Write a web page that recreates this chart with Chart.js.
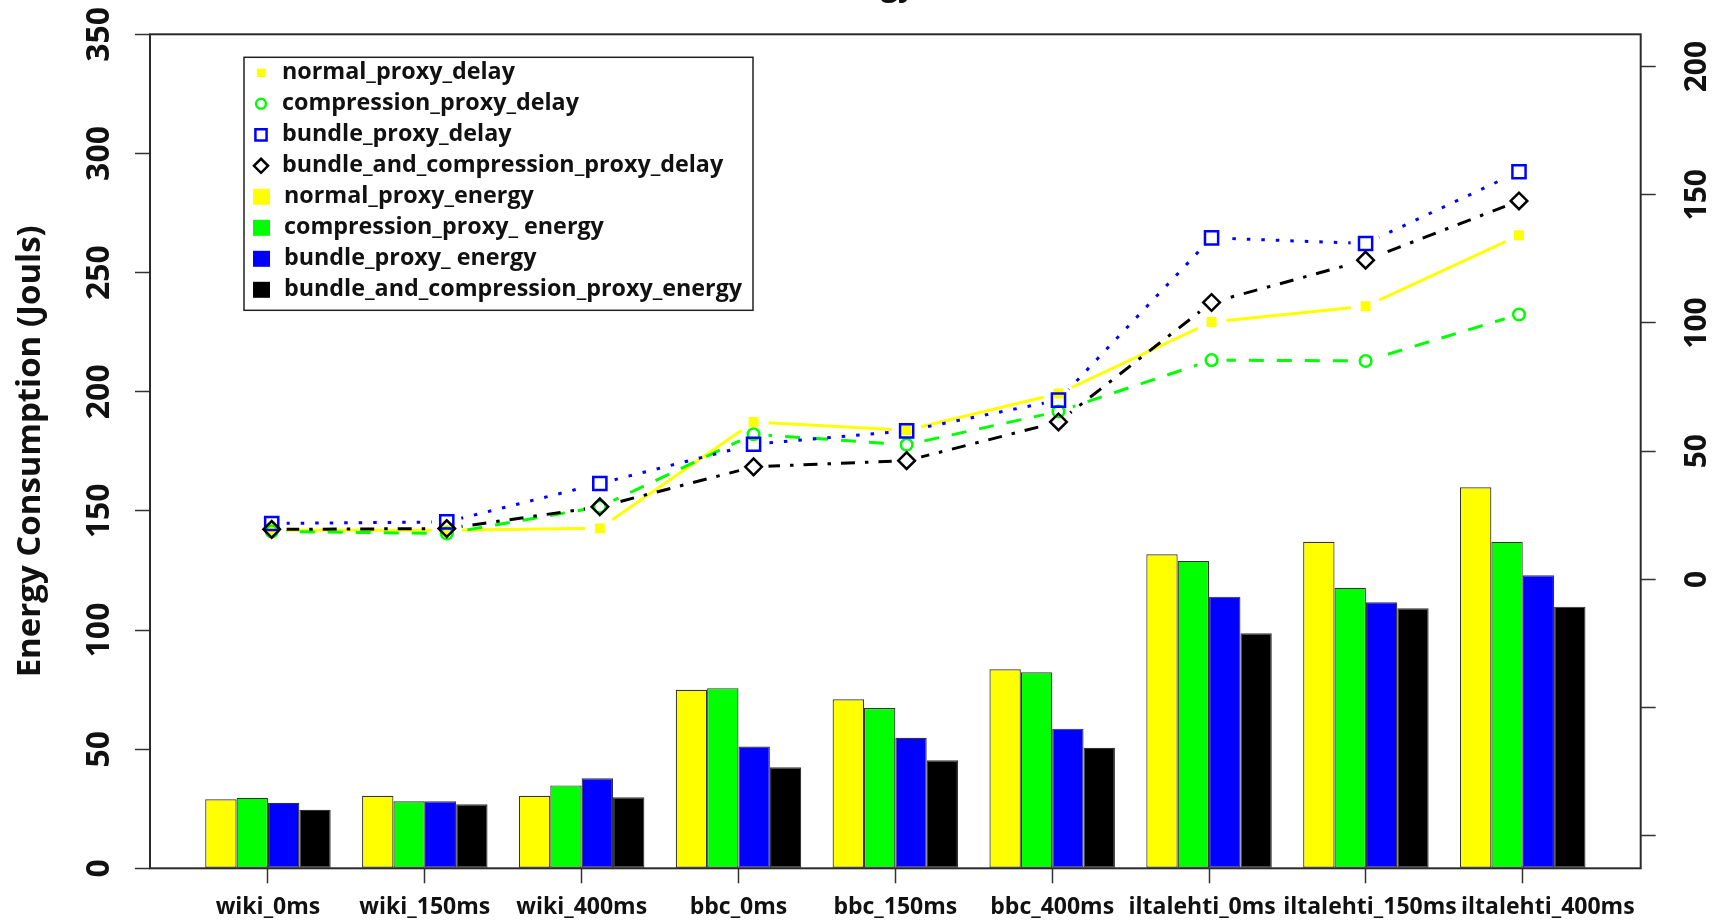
<!DOCTYPE html>
<html>
<head>
<meta charset="utf-8">
<script src="https://cdn.jsdelivr.net/npm/chart.js"></script>
<style>
  html, body { margin: 0; padding: 0; background: #fff; }
</style>
</head>
<body>
<canvas id="chartCanvas" width="1729" height="923"></canvas>
<script>
// categories on the x axis
const categories = ["wiki_0ms", "wiki_150ms", "wiki_400ms", "bbc_0ms", "bbc_150ms",
  "bbc_400ms", "iltalehti_0ms", "iltalehti_150ms", "iltalehti_400ms"];

// energy (left axis, Jouls)
const normalEnergy = [29.0, 30.4, 30.4, 74.9, 70.9, 83.5, 131.8, 137.0, 159.9];
const compressionEnergy = [29.6, 28.1, 34.8, 75.6, 67.3, 82.3, 129.0, 117.7, 137.0];
const bundleEnergy = [27.5, 28.1, 37.8, 51.1, 54.8, 58.6, 114.0, 111.7, 123.0];
const bundleCompressionEnergy = [24.6, 26.9, 29.8, 42.4, 45.3, 50.6, 98.6, 109.1, 109.8];

// delay (right axis)
const normalDelay = [19.2, 19.2, 19.9, 61.4, 58.2, 72.5, 100.4, 106.5, 134.2];
const compressionDelay = [18.7, 17.9, 28.3, 56.6, 52.5, 65.5, 85.5, 85.2, 103.3];
const bundleDelay = [21.8, 22.4, 37.4, 52.7, 57.9, 69.9, 133.2, 131.0, 159.0];
const bundleCompressionDelay = [19.5, 19.8, 28.3, 43.9, 46.3, 61.4, 108.0, 124.5, 147.6];

// x values of the delay points, in bar widths (the same units as the bar axis)
const delayX = [3.12, 8.70, 13.58, 18.48, 23.36, 28.20, 33.08, 37.99, 42.88];

// tick values
const energyTicks = [0, 50, 100, 150, 200, 250, 300, 350];
const delayTicks = [-100, -50, 0, 50, 100, 150, 200];

const FONT = "'Open Sans', 'DejaVu Sans', sans-serif";
const INK = "#111";

// barplot layout: 4 bars per group, one empty bar between groups
const groupX = categories.map((c, i) => 3 + 5 * i);
// the last labels sit a little off their ticks in the original, so they don't collide
const labelNudge = { 6: -0.22, 7: 0.13, 8: 0.8 };

const energySeries = [
  { label: "normal_proxy_energy", data: normalEnergy, color: "#ffff00" },
  { label: "compression_proxy_ energy", data: compressionEnergy, color: "#00ff00" },
  { label: "bundle_proxy_ energy", data: bundleEnergy, color: "#0000ff" },
  { label: "bundle_and_compression_proxy_energy", data: bundleCompressionEnergy, color: "#000000" },
];

const delaySeries = [
  { label: "normal_proxy_delay", data: normalDelay, color: "#ffff00", style: "rect", radius: 7, border: 0, dash: [] },
  { label: "compression_proxy_delay", data: compressionDelay, color: "#00ff00", style: "circle", radius: 5.8, border: 2.5, dash: [15, 13] },
  { label: "bundle_proxy_delay", data: bundleDelay, color: "#0000ff", style: "rect", radius: 9.3, border: 2.5, dash: [3.5, 11] },
  { label: "bundle_and_compression_proxy_delay", data: bundleCompressionDelay, color: "#000000", style: "rectRot", radius: 8.3, border: 2.5, dash: [3.5, 10, 14, 10] },
];

const datasets = [];
energySeries.forEach((s) => {
  datasets.push({
    type: "bar",
    label: s.label,
    data: s.data.map((v, i) => ({ x: groupX[i], y: v })),
    backgroundColor: s.color,
    borderColor: "#333",
    borderWidth: 1.2,
    borderSkipped: false,
    categoryPercentage: 0.8,
    barPercentage: 1,
    yAxisID: "y",
    order: 5,
  });
});
delaySeries.forEach((s, k) => {
  const pts = s.data.map((v, i) => ({ x: delayX[i], y: v }));
  // the line, with a gap round every point (like R type = "b")
  datasets.push({
    type: "line",
    label: s.label + "_line",
    data: pts,
    borderColor: s.color,
    borderWidth: 3,
    borderDash: s.dash,
    pointRadius: 0,
    fill: false,
    tension: 0,
    yAxisID: "y1",
    gapAround: 15,
    order: 3 - k * 0.1,
  });
  // the markers
  datasets.push({
    type: "line",
    label: s.label,
    data: pts,
    showLine: false,
    pointStyle: s.style,
    pointRadius: s.radius,
    pointBorderWidth: s.border,
    pointBorderColor: s.color,
    pointBackgroundColor: s.border === 0 ? s.color : "rgba(0,0,0,0)",
    yAxisID: "y1",
    order: 2 - k * 0.1,
  });
});

// cut the lines around their points
const lineGaps = {
  id: "lineGaps",
  beforeDatasetDraw(chart, args) {
    const ds = chart.data.datasets[args.index];
    if (!ds.gapAround) return;
    const c = chart.ctx;
    const a = chart.chartArea;
    c.save();
    c.beginPath();
    c.rect(a.left, a.top, a.width, a.height);
    args.meta.data.forEach((p) => {
      c.moveTo(p.x + ds.gapAround, p.y);
      c.arc(p.x, p.y, ds.gapAround, 0, Math.PI * 2);
    });
    c.clip("evenodd");
  },
  afterDatasetDraw(chart, args) {
    if (chart.data.datasets[args.index].gapAround) chart.ctx.restore();
  },
};

const drawSymbol = (c, style, x, y, r, color, border) => {
  c.beginPath();
  if (style === "circle") {
    c.arc(x, y, r, 0, Math.PI * 2);
  } else if (style === "rectRot") {
    c.moveTo(x, y - r); c.lineTo(x + r, y); c.lineTo(x, y + r); c.lineTo(x - r, y); c.closePath();
  } else {
    const h = r * Math.SQRT1_2;
    c.rect(x - h, y - h, 2 * h, 2 * h);
  }
  if (border > 0) {
    c.lineWidth = border; c.strokeStyle = color; c.stroke();
  } else {
    c.fillStyle = color; c.fill();
  }
};

// box round the plot, the legend, and the cut-off title
const frame = {
  id: "frame",
  afterDraw(chart) {
    const c = chart.ctx;
    const a = chart.chartArea;
    c.save();
    c.strokeStyle = "#2b2b2b";
    c.lineWidth = 2;
    c.strokeRect(a.left, a.top, a.width, a.height);

    // legend
    const lx = a.left + 94, ly = a.top + 23, lw = 509, lh = 253, row = 31;
    c.lineWidth = 1.5;
    c.strokeStyle = "#222";
    c.strokeRect(lx, ly, lw, lh);
    c.font = "bold 23.3px " + FONT;
    c.textBaseline = "middle";
    c.textAlign = "left";
    const symX = lx + 17, textX = lx + 38;
    delaySeries.forEach((s, i) => {
      const y = ly + 15.5 + row * i;
      drawSymbol(c, s.style, symX, y, s.radius * 0.85, s.color, s.border);
      c.fillStyle = INK;
      c.fillText(s.label, textX, y);
    });
    energySeries.forEach((s, i) => {
      const y = ly + 15.5 + row * (i + 4);
      c.fillStyle = s.color;
      c.fillRect(symX - 8, y - 8, 17, 16);
      c.fillStyle = INK;
      c.fillText(s.label, textX + 2, y);
    });

    // title, only the descenders show at the top edge
    c.font = "bold 30px " + FONT;
    c.textAlign = "right";
    c.textBaseline = "alphabetic";
    c.fillStyle = INK;
    c.fillText("Energy", 915, -4);
    c.restore();
  },
};

const ctx = document.getElementById("chartCanvas").getContext("2d");
const tickGrid = { drawOnChartArea: false, drawTicks: true, tickLength: 15, tickWidth: 1.5, tickColor: "#333", offset: false };

new Chart(ctx, {
  type: "bar",
  data: { datasets },
  options: {
    responsive: false,
    animation: false,
    layout: { padding: { top: 34.3, left: 0, right: 0, bottom: 0 } },
    plugins: { legend: { display: false }, title: { display: false }, tooltip: { enabled: false } },
    scales: {
      // tick marks at the group centres
      x: {
        type: "linear",
        offset: false,
        weight: 0,
        min: -0.76,
        max: 46.76,
        afterBuildTicks: (axis) => { axis.ticks = groupX.map((v) => ({ value: v })); },
        afterFit: (axis) => { axis.height = 15; },
        grid: tickGrid,
        border: { display: false },
        ticks: { display: false },
      },
      // the category names
      xLabels: {
        type: "linear",
        position: "bottom",
        offset: false,
        weight: 1,
        min: -0.76,
        max: 46.76,
        afterBuildTicks: (axis) => { axis.ticks = groupX.map((v, i) => ({ value: v + (labelNudge[i] || 0) })); },
        afterFit: (axis) => { axis.height = 39.7; },
        grid: { display: false, drawTicks: false },
        border: { display: false },
        ticks: {
          autoSkip: false, maxRotation: 0, minRotation: 0, padding: 10, color: INK,
          font: { family: FONT, size: 23, weight: "bold" },
          callback: (v, i) => categories[i],
        },
      },
      y: {
        position: "left",
        min: 0,
        max: 350,
        afterBuildTicks: (axis) => { axis.ticks = energyTicks.map((v) => ({ value: v })); },
        afterFit: (axis) => { axis.width = 150; },
        grid: tickGrid,
        border: { display: false },
        ticks: {
          minRotation: 90, maxRotation: 90, crossAlign: "center", padding: 7.5, color: INK,
          font: { family: FONT, size: 32, weight: "bold" },
        },
        title: {
          display: true,
          text: "Energy Consumption (Jouls)",
          color: INK,
          padding: { top: 11, bottom: 0 },
          font: { family: FONT, size: 33, weight: "bold" },
        },
      },
      y1: {
        position: "right",
        min: -112.7,
        max: 212.6,
        afterBuildTicks: (axis) => { axis.ticks = delayTicks.map((v) => ({ value: v })); },
        afterFit: (axis) => { axis.width = 88.3; },
        grid: tickGrid,
        border: { display: false },
        ticks: {
          minRotation: 90, maxRotation: 90, crossAlign: "center", padding: 15.6, color: INK,
          font: { family: FONT, size: 30, weight: "bold" },
          callback: (v) => (v < 0 ? "" : v),
        },
      },
    },
  },
  plugins: [lineGaps, frame],
});
</script>
</body>
</html>
